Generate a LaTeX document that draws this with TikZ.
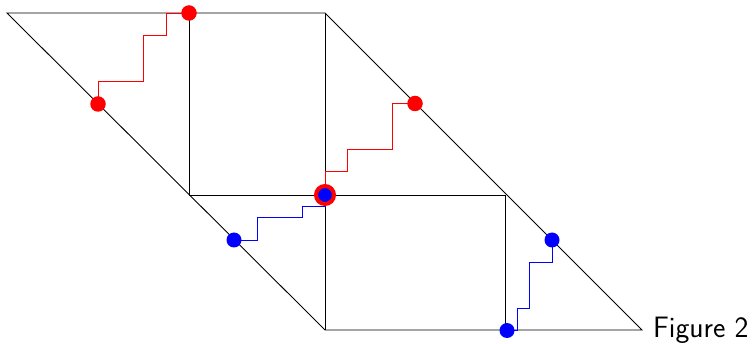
\documentclass[tikz,border=0pt]{standalone}
\begin{document}
\begin{tikzpicture}[x=1pt,y=-1pt,
  frame/.style={black,line width=0.9pt},
  redpath/.style={red,line width=0.9pt},
  bluepath/.style={blue,line width=0.9pt},
  reddot/.style={circle,fill=red,inner sep=0pt,minimum size=15.5pt},
  bluedot/.style={circle,fill=blue,inner sep=0pt,minimum size=15pt},
  bothdot/.style={circle,fill=blue,draw=red,line width=4pt,inner sep=0pt,minimum size=18pt},
  label/.style={font=\sffamily\fontsize{29.5}{31}\selectfont,anchor=base west,inner sep=0pt}]
\useasboundingbox (0,0) rectangle (754,344);
% frame corners
\coordinate (TL) at (7,13);
\coordinate (TM) at (325,13);
\coordinate (TC) at (189,13);
\coordinate (ML) at (189,195);
\coordinate (MC) at (325,195);
\coordinate (MR) at (505,195);
\coordinate (BL) at (325,330);
\coordinate (BM) at (505,330);
\coordinate (BR) at (642,330);
\draw[frame] (TL) -- (TM) -- (BR) -- (BL) -- cycle;
\draw[frame] (TC) -- (ML) -- (MR) -- (BM);
\draw[frame] (TM) -- (BL);
% red steps
\draw[redpath] (98,104) -- (98,81) -- (143,81) -- (143,35.5) -- (166,35.5) -- (166,13) -- (TC);
\draw[redpath] (MC) -- (325,171.5) -- (347.5,171.5) -- (347.5,149.5) -- (392.5,149.5) -- (392.5,103.5) -- (415,103.5);
% blue steps
\draw[bluepath] (234,240) -- (257,240) -- (257,217.5) -- (302.5,217.5) -- (302.5,206) -- (325,206) -- (MC);
\draw[bluepath] (507,330) -- (517.5,330) -- (517.5,308) -- (529.5,308) -- (529.5,262.5) -- (552,262.5) -- (552,240);
% dots
\node[reddot] (r1) at (TC) {};
\node[reddot] (r2) at (98,104) {};
\node[reddot] (r3) at (415,103.5) {};
\node[bluedot] (b1) at (234,240) {};
\node[bluedot] (b2) at (552,240) {};
\node[bluedot] (b3) at (507,330.5) {};
\node[bothdot] (c) at (MC) {};
\node[label] (fig) at (653,337.5) {Figure 2};
\end{tikzpicture}
\end{document}
